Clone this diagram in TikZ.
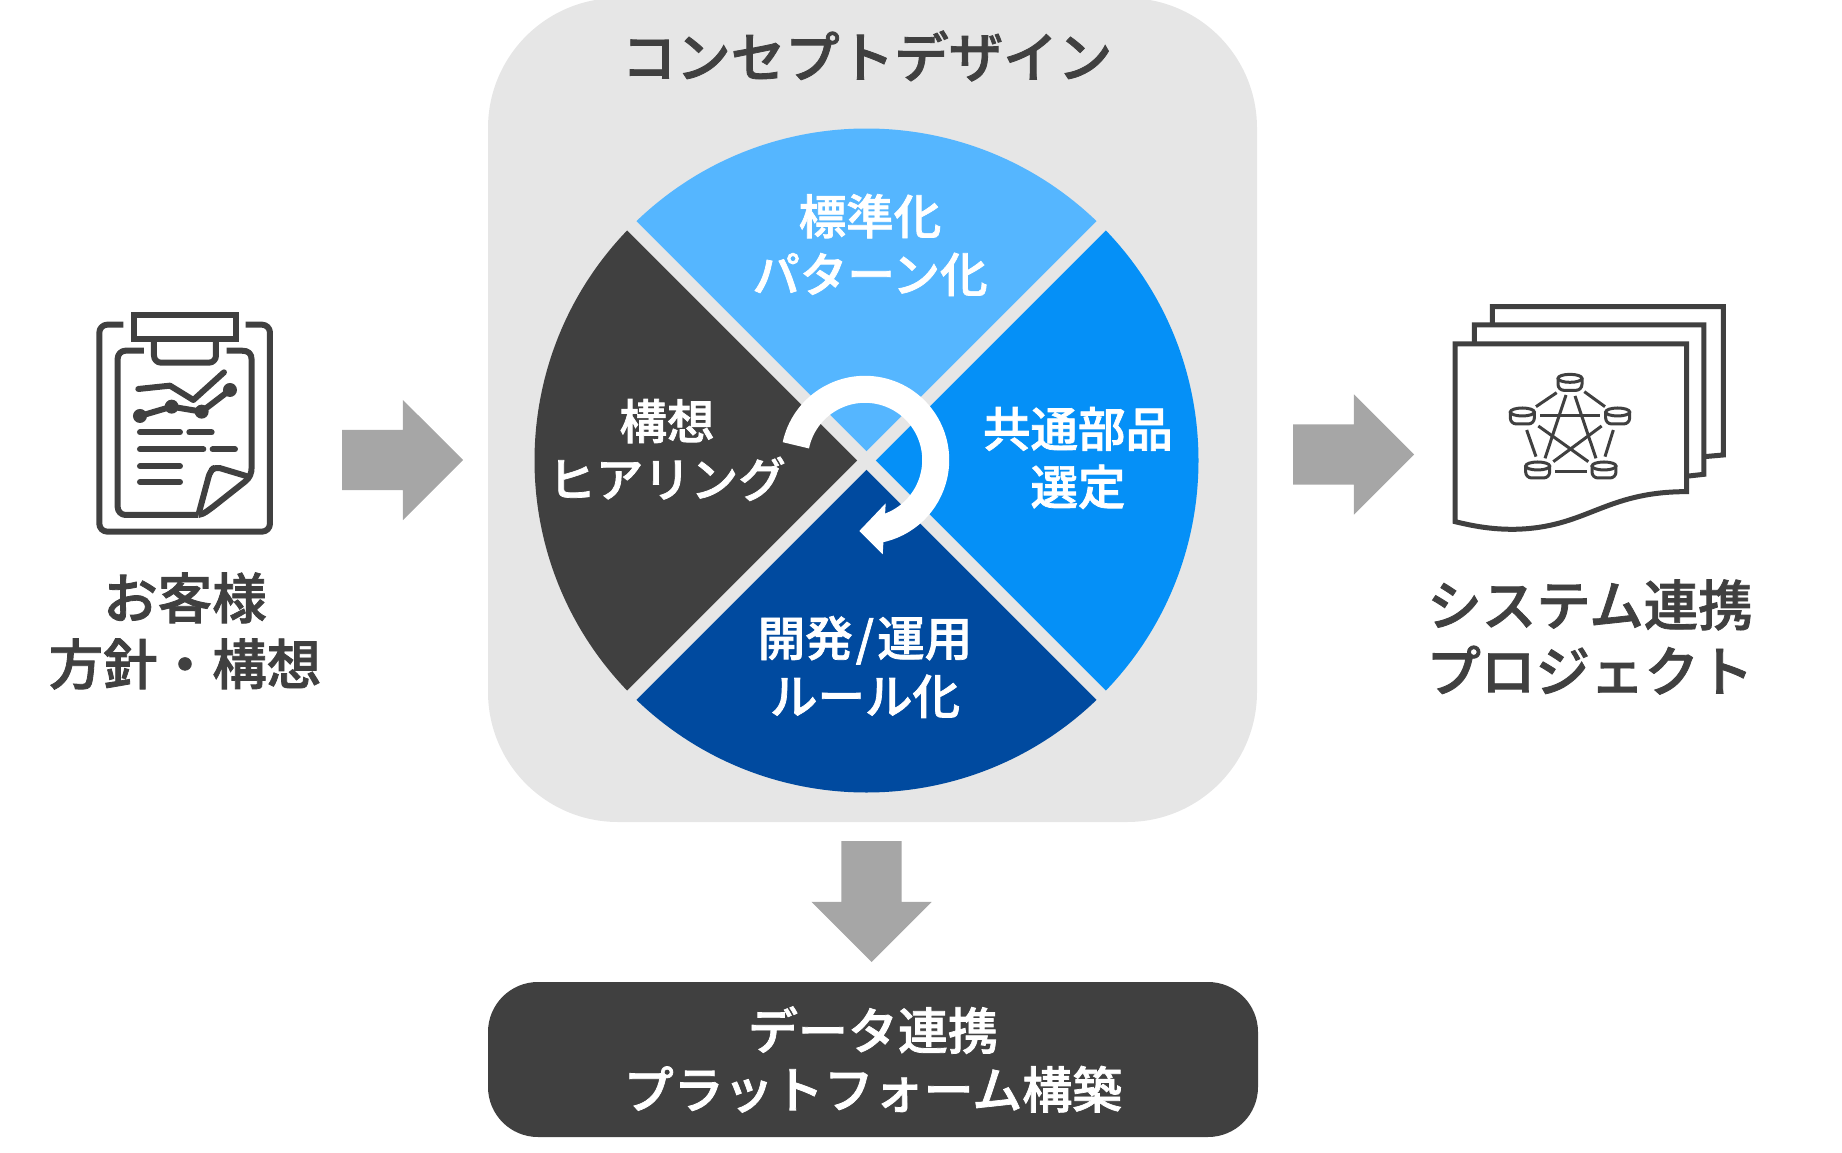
\documentclass[tikz,border=0pt]{standalone}
\usepackage{fontspec}
\usepackage{xcolor}
\usepackage{tikz}
\usetikzlibrary{shapes.arrows}
\setmainfont{Noto Sans CJK JP}[BoldFont={Noto Sans CJK JP Medium},BoldFeatures={FakeBold=1.5}]
\definecolor{inkgray}{HTML}{404040}
\definecolor{panelgray}{HTML}{E6E6E6}
\definecolor{arrowgray}{HTML}{A6A6A6}
\definecolor{lightblue}{HTML}{55B6FF}
\definecolor{midblue}{HTML}{0590F7}
\definecolor{deepblue}{HTML}{004A9F}
\begin{document}
\begin{tikzpicture}[
    x=1pt, y=-1pt,
    panel/.style={rectangle, fill=panelgray, rounded corners=130pt, minimum width=769pt, minimum height=824pt, inner sep=0pt},
    platform/.style={rectangle, fill=inkgray, text=white, rounded corners=50pt, minimum width=770pt, minimum height=155pt, inner sep=0pt, align=center, font=\bfseries\fontsize{50pt}{59pt}\selectfont},
    flow/.style={single arrow, fill=arrowgray, anchor=tip, minimum height=121pt, minimum width=120pt, single arrow head extend=30pt, inner xsep=0pt, inner ysep=30pt, outer sep=0pt},
    slice/.style={text=white, align=center, font=\bfseries\fontsize{47.5pt}{58pt}\selectfont},
    heading/.style={text=inkgray, align=center, font=\bfseries\fontsize{54.5pt}{66pt}\selectfont},
    icon/.style={draw=inkgray, line width=6pt, line join=round},
    sheet/.style={draw=inkgray, line width=5pt, fill=white},
    link/.style={draw=inkgray, line width=3pt}
  ]
    \useasboundingbox (0,0) rectangle (1842,1153);
    \node[panel] (concept) at (872.5,410) {};
    \node[platform] (dataplat) at (873,1059.5) {データ連携\\プラットフォーム構築};
    \node[heading] (title) at (867,56) {コンセプトデザイン};
    % wheel
    \coordinate (hub) at (866.5,460.5);
    \foreach \a/\c in {225/lightblue, 315/midblue, 45/deepblue, 135/inkgray}
      \fill[\c] (hub) -- +(\a:332) arc[start angle=\a, delta angle=90, radius=332] -- cycle;
    \draw[panelgray, line width=13pt] (hub) +(45:345) -- +(225:345);
    \draw[panelgray, line width=13pt] (hub) +(135:345) -- +(315:345);
    \draw[white, line width=27pt] (865,460) ++(192:70.7) arc[start angle=192, end angle=440, radius=70.7];
    \fill[white] (859.3,531) -- (885.7,503.3) -- (882.7,554.3) -- cycle;
    \node[slice] (standard) at (870,245) {標準化\\パターン化};
    \node[slice] (parts) at (1078,458) {共通部品\\選定};
    \node[slice] (operate) at (865,667) {開発\hspace{3pt}/\hspace{3pt}運用\\ルール化};
    \node[slice] (hearing) at (667,450) {構想\\ヒアリング};
    % left and right labels
    \node[heading] (customer) at (185,631) {お客様\\方針・構想};
    \node[heading] (system) at (1590,637) {システム連携\\プロジェクト};
    \node[flow] (toconcept) at (463,460) {};
    \node[flow] (tosystem) at (1414,454.5) {};
    \node[flow, rotate=-90] (toplat) at (871.5,962) {};
    % clipboard
    \begin{scope}[shift={(70,290)}, x=0.3333pt, y=-0.3333pt]
      \draw[icon, rounded corners=8pt] (160,104) -- (88,104) -- (88,725) -- (600,725) -- (600,104) -- (527,104);
      \draw[icon, miter limit=4, line join=miter] (192,75) rectangle (497,148);
      \draw[icon, rounded corners=7pt] (252,148) -- (252,218) -- (438,218) -- (438,148);
      \draw[icon, rounded corners=8pt] (222,182) -- (143,182) -- (143,675) -- (385,675);
      \draw[icon] (385,675) .. controls (405,672) and (415,660) .. (430,650) -- (525,575) .. controls (540,563) and (545,550) .. (545,530) -- (545,210) .. controls (545,190) and (535,182) .. (515,182) -- (470,182);
      \draw[icon, rounded corners=5pt] (387,668) -- (420,545) -- (435,530) -- (535,560);
      \draw[icon, line cap=round] (205,297) -- (300,287) -- (370,330) -- (462,247);
      \draw[icon, line cap=round] (210,378) -- (305,350) -- (395,365) -- (480,300);
      \fill[inkgray] (210,378) circle[radius=21] (305,350) circle[radius=21] (395,365) circle[radius=21] (480,300) circle[radius=21];
      \foreach \xa/\xb/\ya in {210/330/427, 358/425/427, 210/400/478, 428/495/478, 210/330/529, 210/330/576}
        \draw[icon, line cap=round] (\xa,\ya) -- (\xb,\ya);
    \end{scope}
    % network sheets
    \begin{scope}[shift={(1430,290)}, x=0.3333pt, y=-0.3333pt]
      \draw[sheet] (187,110) -- (187,50) -- (880,50) -- (880,495) -- (800,502);
      \draw[sheet] (133,170) -- (133,105) -- (822,105) -- (822,553) -- (740,562);
      \draw[sheet] (75,162) -- (770,162) -- (770,605) .. controls (520,605) and (470,715) .. (250,718) .. controls (180,718) and (130,708) .. (75,695) -- cycle;
      \foreach \xa/\ya/\xb/\yb in {380/308/318/350, 463/305/525/350, 330/378/510/378, 408/315/345/505, 435/318/498/505, 290/420/318/500, 550/420/525/500, 375/546/470/546, 325/408/475/515, 515/408/370/515}
        \draw[link] (\xa,\ya) -- (\xb,\yb);
      \foreach \cx/\cy in {420/277, 277/378, 563/378, 323/540, 522/540}{
        \draw[link] (\cx,\cy-12) ellipse[x radius=36, y radius=12];
        \draw[link, rounded corners=6pt] (\cx-36,\cy-12) -- (\cx-36,\cy+24) -- (\cx+36,\cy+24) -- (\cx+36,\cy-12);
      }
    \end{scope}
\end{tikzpicture}
\end{document}
